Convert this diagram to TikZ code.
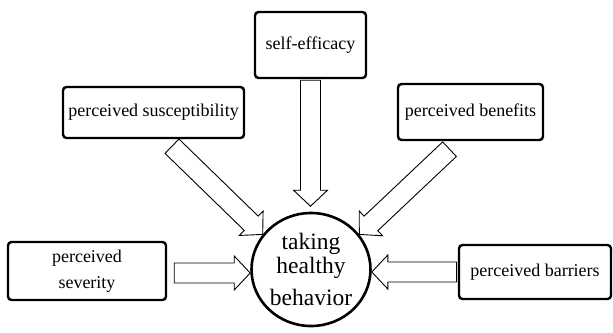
\documentclass[tikz,border=0pt]{standalone}
\usepackage{fontspec}
\setmainfont{Liberation Serif}
\usetikzlibrary{calc,shapes.geometric}
\tikzset{
  box/.style={draw, line width=2.4bp, rounded corners=3.5bp, inner sep=0pt, align=center,
    font=\fontsize{18bp}{26bp}\selectfont},
  hollow/.style={draw, line width=0.9bp, fill=white, line join=miter},
  core/.style={ellipse, draw, line width=2.6bp, minimum width=119bp, minimum height=113bp,
    inner sep=0pt, align=center, font=\fontsize{23.5bp}{24bp}\selectfont}
}
\newcommand\blockarr[3]{%
  \coordinate (#3) at ($(#2)!16bp!(#1)$);
  \draw[hollow] ($(#1)!10bp!90:(#2)$) -- ($(#3)!10bp!90:(#2)$) -- ($(#3)!17bp!90:(#2)$)
    -- (#2) -- ($(#3)!17bp!-90:(#2)$) -- ($(#3)!10bp!-90:(#2)$) -- ($(#1)!10bp!-90:(#2)$) -- cycle;}
\begin{document}
\begin{tikzpicture}[x=1bp, y=-1bp]
\useasboundingbox (0,0) rectangle (613,332);
\node[core] (hb) at (311,269.5) {taking\\healthy\\[8bp]behavior};
\node[box, minimum width=111bp, minimum height=66bp] (eff) at (310.5,45) {self-efficacy};
\node[box, minimum width=181bp, minimum height=51bp] (sus) at (153.5,112.5) {perceived susceptibility};
\node[box, minimum width=145bp, minimum height=56bp] (ben) at (470.5,112) {perceived benefits};
\node[box, minimum width=158bp, minimum height=58bp] (sev) at (87,271) {perceived\\severity};
\node[box, minimum width=152bp, minimum height=54bp] (bar) at (535,272) {perceived barriers};
% connector ends
\coordinate (effA) at ($(eff.south)+(0,1)$);
\coordinate (effB) at ($(hb.north)+(-0.5,-5.5)$);
\coordinate (susA) at ($(sus.south)+(18.5,7)$);
\coordinate (susB) at (hb.144);
\coordinate (benA) at ($(ben.south)+(-21,8)$);
\coordinate (benB) at (hb.36);
\coordinate (sevA) at ($(sev.east)+(7,2)$);
\coordinate (sevB) at (hb.west |- sevA);
\coordinate (barA) at ($(bar.west)+(-1.2,0)$);
\coordinate (barB) at (hb.east |- barA);
\blockarr{effA}{effB}{effH}
\blockarr{susA}{susB}{susH}
\blockarr{benA}{benB}{benH}
\blockarr{sevA}{sevB}{sevH}
\blockarr{barA}{barB}{barH}
\end{tikzpicture}
\end{document}
